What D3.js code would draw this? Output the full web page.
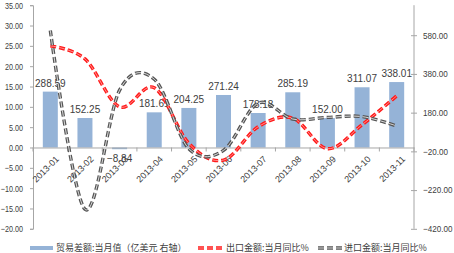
<!DOCTYPE html>
<html><head><meta charset="utf-8">
<script src="https://cdn.jsdelivr.net/npm/d3@7"></script>
<style>
body{margin:0;background:#fff;}
text{font-family:"Liberation Sans",Arial,sans-serif;}
.cjk{font-family:"Noto Sans CJK SC","Liberation Sans",sans-serif;}
</style></head>
<body><svg id="c" width="454" height="253"></svg>
<script>
const months = ["2013-01","2013-02","2013-03","2013-04","2013-05","2013-06","2013-07","2013-08","2013-09","2013-10","2013-11"];
const tradeBalance = [288.59,152.25,-8.84,181.61,204.25,271.24,178.18,285.19,152.00,311.07,338.01];
const exportYoY = [25.0,21.8,10.0,14.7,1.0,-3.1,5.1,7.2,-0.3,5.6,12.7];
const importYoY = [28.8,-15.2,14.1,16.8,-0.3,-0.7,10.9,7.0,7.4,7.6,5.3];
const leftTicks = [35,30,25,20,15,10,5,0,-5,-10,-15,-20];
const rightTicks = [580,380,180,-20,-220,-420];
const legendLabels = ["贸易差额:当月值（亿美元 右轴）","出口金额:当月同比%","进口金额:当月同比%"];

const svg = d3.select("#c");
const X0 = 33, X1 = 414, Y0 = 5.2, Y1 = 228.8;
const x = d3.scaleBand().domain(months).range([X0, X1]).padding(0);
const cx = m => x(m) + x.bandwidth()/2;
const yL = d3.scaleLinear().domain([-20,35]).range([Y1,Y0]);
const yR = d3.scaleLinear().domain([-420,735]).range([Y1,Y0]);
const axisCol = "#a6a6a6", labCol = "#404040";

// left axis
const gl = svg.append("g").attr("transform",`translate(${X0},0)`)
  .call(d3.axisLeft(yL).tickValues(leftTicks).tickSize(3).tickFormat(d3.format(".2f")));
gl.attr("font-family",null).attr("font-size",null);
gl.select(".domain").attr("stroke",axisCol);
gl.selectAll(".tick line").attr("stroke",axisCol);
gl.selectAll(".tick text").attr("fill",labCol).style("font-size","9px")
  .attr("x",-10/0.8).attr("transform","scale(0.8,1)");

// right axis
const gr = svg.append("g").attr("transform",`translate(${X1},0)`)
  .call(d3.axisRight(yR).tickValues(rightTicks).tickSize(3).tickFormat(d3.format(".2f")));
gr.attr("font-family",null).attr("font-size",null);
gr.select(".domain").attr("stroke",axisCol).attr("d",`M0,${Y0}V${Y1}`);
gr.selectAll(".tick line").attr("stroke",axisCol).attr("x1",-3).attr("x2",3);
gr.selectAll(".tick text").attr("fill",labCol).style("font-size","9px")
  .attr("x",9/0.9).attr("transform","scale(0.9,1)");

// bars
const bw = 15;
svg.append("g").selectAll("rect").data(months).join("rect")
  .attr("x",(m)=>cx(m)-bw/2)
  .attr("y",(m,i)=>yR(Math.max(0,tradeBalance[i])))
  .attr("width",bw)
  .attr("height",(m,i)=>Math.abs(yR(tradeBalance[i])-yR(0)))
  .attr("fill","#95b3d7");

// x axis at zero
const gx = svg.append("g").attr("transform",`translate(0,${yL(0)})`)
  .call(d3.axisBottom(x).tickSize(0).tickFormat(""));
gx.select(".domain").attr("stroke",axisCol);
gx.selectAll(".tick").remove();
const bounds = months.map(m=>x(m)).concat([X1]);
gx.selectAll("line.b").data(bounds).join("line").attr("class","b")
  .attr("x1",d=>d).attr("x2",d=>d).attr("y1",0).attr("y2",4).attr("stroke",axisCol);
svg.append("g").selectAll("text").data(months).join("text")
  .attr("transform",m=>`translate(${cx(m)+7},${yL(0)+10}) rotate(-45)`)
  .attr("text-anchor","end").attr("dy","0.35em")
  .attr("fill",labCol).style("font-size","9px").text(m=>m);

// bar labels
svg.append("g").selectAll("text").data(months).join("text")
  .attr("x",m=>cx(m))
  .attr("y",(m,i)=>tradeBalance[i]>=0 ? yR(tradeBalance[i])-5 : yR(tradeBalance[i])+13)
  .attr("text-anchor","middle").attr("fill",labCol).style("font-size","10px")
  .text((m,i)=>d3.format(".2f")(tradeBalance[i]));

// lines
const line = d3.line().curve(d3.curveCardinal.tension(0)).x((d,i)=>cx(months[i])).y(d=>yL(d));
function styled(sel, outer, inner){
  sel.append("path").attr("fill","none").attr("stroke",outer).attr("stroke-width",3.4).attr("stroke-dasharray","6,3");
  sel.append("path").attr("fill","none").attr("stroke",inner).attr("stroke-width",0.9).attr("stroke-dasharray","6,3");
}
const gE = svg.append("g"); styled(gE,"#ff1a1a","#ff9a9a");
gE.selectAll("path").attr("d",line(exportYoY));
const gI = svg.append("g"); styled(gI,"#555555","#e8e8e8");
gI.selectAll("path").attr("d",line(importYoY));

// legend
const ly = 248;
svg.append("rect").attr("x",30).attr("y",ly-2).attr("width",23).attr("height",4).attr("fill","#95b3d7");
svg.append("text").attr("class","cjk").attr("x",56).attr("y",ly+3.3).attr("fill",labCol).style("font-size","9px").text(legendLabels[0]);
const l2 = svg.append("g"); styled(l2,"#ff1a1a","#ff9a9a");
l2.selectAll("path").attr("d",`M198,${ly}H225`);
svg.append("text").attr("class","cjk").attr("x",226).attr("y",ly+3.3).attr("fill",labCol).style("font-size","9px").text(legendLabels[1]);
const l3 = svg.append("g"); styled(l3,"#555555","#e8e8e8");
l3.selectAll("path").attr("d",`M318,${ly}H343`);
svg.append("text").attr("class","cjk").attr("x",344).attr("y",ly+3.3).attr("fill",labCol).style("font-size","9px").text(legendLabels[2]);
</script></body></html>
